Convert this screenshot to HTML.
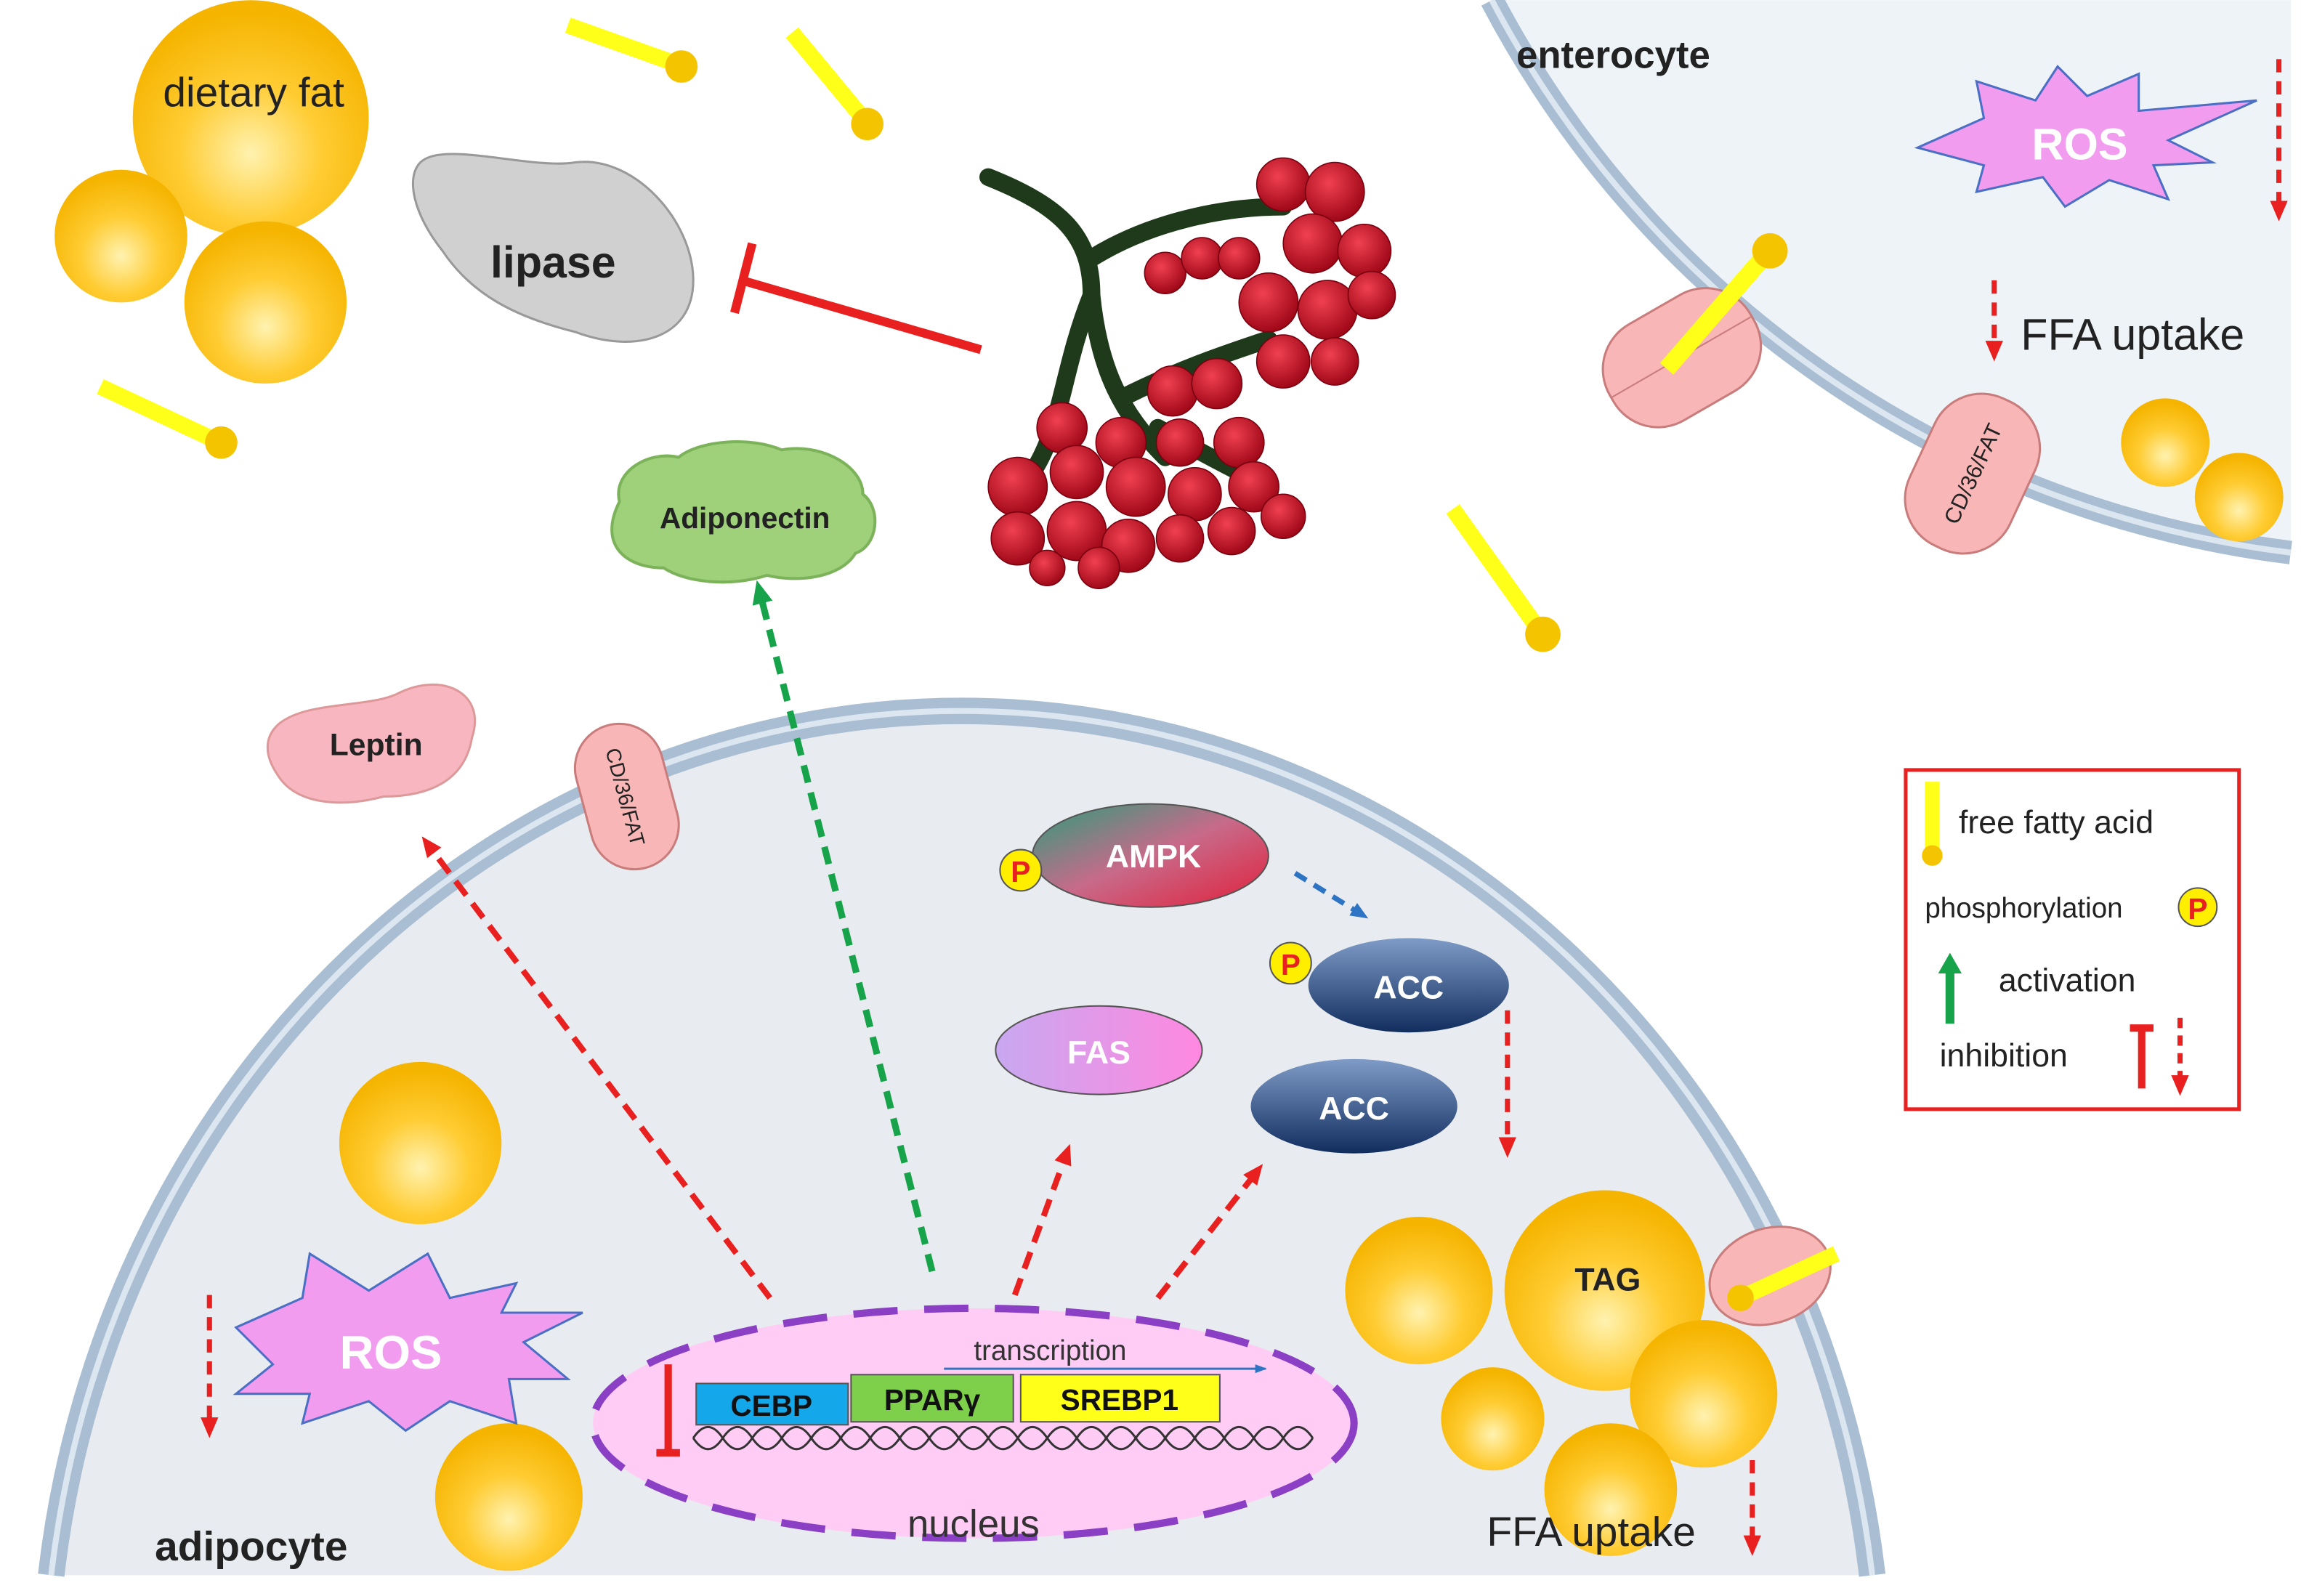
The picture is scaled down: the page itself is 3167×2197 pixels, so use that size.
<!DOCTYPE html>
<html><head><meta charset="utf-8"><style>
html,body{margin:0;padding:0;background:#fff;width:3167px;height:2197px;overflow:hidden}
svg{display:block;position:absolute;left:0;top:0}
text{font-family:"Liberation Sans",sans-serif}
</style></head><body>
<svg width="3167" height="2197" viewBox="0 0 1560 1082" xmlns="http://www.w3.org/2000/svg">
<defs>
<radialGradient id="gold" cx="50%" cy="65%" r="60%"><stop offset="0" stop-color="#fff2b0"/><stop offset="0.5" stop-color="#ffcc33"/><stop offset="1" stop-color="#f5b400"/></radialGradient>
<linearGradient id="ampk" x1="0" y1="0" x2="1" y2="1"><stop offset="0" stop-color="#2a9d7a"/><stop offset="0.5" stop-color="#c86a8a"/><stop offset="1" stop-color="#e0203a"/></linearGradient>
<linearGradient id="acc" x1="0" y1="0" x2="0" y2="1"><stop offset="0" stop-color="#7f9cc8"/><stop offset="1" stop-color="#102d5e"/></linearGradient>
<linearGradient id="fas" x1="0" y1="0" x2="1" y2="0"><stop offset="0" stop-color="#c8a8f0"/><stop offset="1" stop-color="#ff88e0"/></linearGradient>
<radialGradient id="berry" cx="40%" cy="35%" r="65%"><stop offset="0" stop-color="#f04050"/><stop offset="1" stop-color="#a00818"/></radialGradient>
<marker id="ar" markerUnits="userSpaceOnUse" markerWidth="14" markerHeight="14" refX="4" refY="7" orient="auto"><path d="M0,1 L14,7 L0,13z" fill="#e8201f"/></marker>
<marker id="ag" markerUnits="userSpaceOnUse" markerWidth="16" markerHeight="16" refX="4" refY="8" orient="auto"><path d="M0,1 L16,8 L0,15z" fill="#16a34a"/></marker>
<marker id="agl" markerUnits="userSpaceOnUse" markerWidth="14" markerHeight="16" refX="2" refY="8" orient="auto"><path d="M0,0 L14,8 L0,16z" fill="#16a34a"/></marker>
<marker id="ab" markerUnits="userSpaceOnUse" markerWidth="12" markerHeight="12" refX="3" refY="6" orient="auto"><path d="M0,1 L12,6 L0,11z" fill="#2d74c4"/></marker>
<marker id="abs" markerUnits="userSpaceOnUse" markerWidth="8" markerHeight="8" refX="7" refY="4" orient="auto"><path d="M0,1 L8,4 L0,7z" fill="#2d74c4"/></marker>
</defs>
<rect width="1560" height="1082" fill="#fff"/>

<path d="M1011.4,0 A710,710 0 0 0 1553,374.6 L1553,0 Z" fill="#eef3f8"/>
<path d="M1011.4,0 A710,710 0 0 0 1553,374.6" fill="none" stroke="#a9bed2" stroke-width="16"/>
<path d="M1011.4,0 A710,710 0 0 0 1553,374.6" fill="none" stroke="#dbe6f0" stroke-width="4"/>
<text x="1028" y="46" font-size="26" font-weight="bold" fill="#222">enterocyte</text>
<polygon points="1300,100 1345,80 1340,55 1380,68 1395,45 1415,65 1450,50 1450,75 1530,68 1470,95 1500,110 1460,112 1470,135 1430,122 1400,140 1385,120 1340,130 1345,112" fill="#f29cf0" stroke="#4a6fc4" stroke-width="1.5"/>
<text x="1410" y="108" font-size="30" font-weight="bold" fill="#fff" text-anchor="middle">ROS</text>
<line x1="1545" y1="40" x2="1545" y2="140" stroke="#e8201f" stroke-width="3.5" stroke-dasharray="9,6" marker-end="url(#ar)"/>
<line x1="1352" y1="190" x2="1352" y2="235" stroke="#e8201f" stroke-width="3.5" stroke-dasharray="9,6" marker-end="url(#ar)"/>
<text x="1370" y="237" font-size="30" fill="#222">FFA uptake</text>
<g transform="rotate(-30 1140 242)"><rect x="1085" y="205" width="110" height="75" rx="35" fill="#f8b6b6" stroke="#c97c7c" stroke-width="1.5"/><line x1="1085" y1="242" x2="1195" y2="242" stroke="#c97c7c"/></g>
<line x1="1130" y1="250" x2="1195" y2="175" stroke="#ffff1a" stroke-width="12"/>
<circle cx="1200" cy="170" r="12" fill="#f5c400"/>
<g transform="rotate(-65 1335 320)"><rect x="1280" y="285" width="110" height="75" rx="35" fill="#f8b6b6" stroke="#c97c7c" stroke-width="1.5"/><text x="1335" y="328" font-size="15" text-anchor="middle" fill="#222">CD/36/FAT</text></g>
<circle cx="1468" cy="300" r="30" fill="url(#gold)"/>
<circle cx="1518" cy="337" r="30" fill="url(#gold)"/>

<path d="M34.7,1068 A622,668 0 0 1 1269.3,1068 Z" fill="#e8ebef"/>
<path d="M34.7,1068 A622,668 0 0 1 1269.3,1068" fill="none" stroke="#a9bed2" stroke-width="18"/>
<path d="M34.7,1068 A622,668 0 0 1 1269.3,1068" fill="none" stroke="#dbe6f0" stroke-width="4"/>

<circle cx="170" cy="80" r="80" fill="url(#gold)"/>
<text x="172" y="72" font-size="28" fill="#222" text-anchor="middle">dietary fat</text>
<circle cx="82" cy="160" r="45" fill="url(#gold)"/>
<circle cx="180" cy="205" r="55" fill="url(#gold)"/>
<g stroke="#ffff1a" stroke-width="11">
<line x1="385" y1="17" x2="458" y2="43"/><line x1="537" y1="22" x2="585" y2="80"/><line x1="68" y1="262" x2="145" y2="298"/><line x1="985" y1="345" x2="1042" y2="425"/></g>
<g fill="#f5c400"><circle cx="462" cy="45" r="11"/><circle cx="588" cy="84" r="11"/><circle cx="150" cy="300" r="11"/><circle cx="1046" cy="430" r="12"/></g>
<path d="M285,110 C300,95 360,115 390,110 C430,105 470,150 470,190 C470,230 430,240 390,225 C350,215 320,200 300,170 C280,145 275,120 285,110z" fill="#d0d0d0" stroke="#999" stroke-width="1.5"/>
<text x="375" y="188" font-size="30" font-weight="bold" fill="#222" text-anchor="middle">lipase</text>
<line x1="665" y1="237" x2="503" y2="190" stroke="#e8201f" stroke-width="6"/>
<line x1="510" y1="165" x2="498" y2="212" stroke="#e8201f" stroke-width="6"/>

<g stroke="#1e3a1a" stroke-width="12" fill="none" stroke-linecap="round">
<path d="M670,120 C720,140 740,160 740,200 C745,250 760,280 790,310"/>
<path d="M740,200 C720,250 720,290 700,320"/>
<path d="M740,175 C780,150 830,140 870,140"/>
<path d="M760,270 C800,250 830,240 860,230"/>
<path d="M785,290 C820,310 840,320 860,330"/>
</g>
<g fill="url(#berry)" stroke="#7a0010" stroke-width="0.8">
<circle cx="870" cy="125" r="18"/><circle cx="905" cy="130" r="20"/><circle cx="890" cy="165" r="20"/><circle cx="925" cy="170" r="18"/><circle cx="860" cy="205" r="20"/><circle cx="900" cy="210" r="20"/><circle cx="930" cy="200" r="16"/><circle cx="870" cy="245" r="18"/><circle cx="905" cy="245" r="16"/><circle cx="790" cy="185" r="14"/><circle cx="815" cy="175" r="14"/><circle cx="840" cy="175" r="14"/>
<circle cx="795" cy="265" r="17"/><circle cx="825" cy="260" r="17"/><circle cx="720" cy="290" r="17"/><circle cx="760" cy="300" r="17"/><circle cx="800" cy="300" r="16"/><circle cx="840" cy="300" r="17"/><circle cx="690" cy="330" r="20"/><circle cx="730" cy="320" r="18"/><circle cx="770" cy="330" r="20"/><circle cx="810" cy="335" r="18"/><circle cx="850" cy="330" r="17"/><circle cx="690" cy="365" r="18"/><circle cx="730" cy="360" r="20"/><circle cx="765" cy="370" r="18"/><circle cx="800" cy="365" r="16"/><circle cx="835" cy="360" r="16"/><circle cx="870" cy="350" r="15"/><circle cx="745" cy="385" r="14"/><circle cx="710" cy="385" r="12"/>
</g>

<path d="M420,340 C415,320 440,305 460,310 C475,298 510,296 530,305 C555,300 585,315 585,335 C598,345 595,370 580,375 C570,392 540,395 520,390 C495,398 465,395 450,385 C425,385 405,370 420,340z" fill="#9fd07a" stroke="#7cb35a" stroke-width="2"/>
<text x="505" y="358" font-size="20" font-weight="bold" fill="#222" text-anchor="middle">Adiponectin</text>
<path d="M190,490 C210,475 250,480 270,470 C300,455 330,470 320,500 C315,530 290,540 260,540 C230,548 200,545 188,525 C178,510 180,498 190,490z" fill="#f8b6c0" stroke="#d99" stroke-width="1.5"/>
<text x="255" y="512" font-size="21" font-weight="bold" fill="#222" text-anchor="middle">Leptin</text>
<g transform="rotate(75 425 540)"><rect x="375" y="510" width="100" height="60" rx="30" fill="#f8b6b6" stroke="#c97c7c" stroke-width="1.5"/><text x="425" y="546" font-size="14" text-anchor="middle" fill="#222">CD/36/FAT</text></g>

<ellipse cx="780" cy="580" rx="80" ry="35" fill="url(#ampk)" stroke="#555" stroke-width="1"/>
<text x="782" y="588" font-size="22" font-weight="bold" fill="#fff" text-anchor="middle">AMPK</text>
<circle cx="692" cy="590" r="14" fill="#ffee00" stroke="#555"/><text x="692" y="598" font-size="20" font-weight="bold" fill="#e8201f" text-anchor="middle">P</text>
<line x1="878" y1="592" x2="920" y2="618" stroke="#2d74c4" stroke-width="3.5" stroke-dasharray="9,6" marker-end="url(#ab)"/>
<ellipse cx="955" cy="668" rx="68" ry="32" fill="url(#acc)"/>
<text x="955" y="677" font-size="22" font-weight="bold" fill="#fff" text-anchor="middle">ACC</text>
<circle cx="875" cy="653" r="14" fill="#ffee00" stroke="#555"/><text x="875" y="661" font-size="20" font-weight="bold" fill="#e8201f" text-anchor="middle">P</text>
<ellipse cx="918" cy="750" rx="70" ry="32" fill="url(#acc)"/>
<text x="918" y="759" font-size="22" font-weight="bold" fill="#fff" text-anchor="middle">ACC</text>
<ellipse cx="745" cy="712" rx="70" ry="30" fill="url(#fas)" stroke="#555" stroke-width="1"/>
<text x="745" y="721" font-size="22" font-weight="bold" fill="#fff" text-anchor="middle">FAS</text>
<line x1="1022" y1="685" x2="1022" y2="775" stroke="#e8201f" stroke-width="3.5" stroke-dasharray="9,6" marker-end="url(#ar)"/>

<circle cx="285" cy="775" r="55" fill="url(#gold)"/>
<circle cx="345" cy="1015" r="50" fill="url(#gold)"/>
<circle cx="962" cy="875" r="50" fill="url(#gold)"/>
<circle cx="1088" cy="875" r="68" fill="url(#gold)"/>
<text x="1090" y="875" font-size="22" font-weight="bold" fill="#222" text-anchor="middle">TAG</text>
<circle cx="1155" cy="945" r="50" fill="url(#gold)"/>
<circle cx="1012" cy="962" r="35" fill="url(#gold)"/>
<circle cx="1092" cy="1010" r="45" fill="url(#gold)"/>
<text x="1008" y="1048" font-size="28" fill="#222">FFA uptake</text>
<line x1="1188" y1="990" x2="1188" y2="1045" stroke="#e8201f" stroke-width="3.5" stroke-dasharray="9,6" marker-end="url(#ar)"/>
<g transform="rotate(-20 1200 865)"><ellipse cx="1200" cy="865" rx="42" ry="32" fill="#f8b6b6" stroke="#c97c7c" stroke-width="1.5"/></g>
<line x1="1180" y1="880" x2="1245" y2="850" stroke="#ffff1a" stroke-width="11"/>
<circle cx="1180" cy="880" r="9" fill="#f5c400"/>

<polygon points="160,900 205,880 210,850 250,875 290,850 305,880 350,870 340,890 395,890 355,910 385,935 345,935 350,965 305,950 275,970 250,950 205,965 210,945 160,945 185,925" fill="#f29cf0" stroke="#4a6fc4" stroke-width="1.5"/>
<text x="265" y="928" font-size="32" font-weight="bold" fill="#fff" text-anchor="middle">ROS</text>
<line x1="142" y1="878" x2="142" y2="965" stroke="#e8201f" stroke-width="3.5" stroke-dasharray="9,6" marker-end="url(#ar)"/>
<text x="105" y="1058" font-size="28" font-weight="bold" fill="#222">adipocyte</text>

<ellipse cx="660" cy="965" rx="258" ry="78" fill="#ffccf5"/>
<ellipse cx="660" cy="965" rx="258" ry="78" fill="none" stroke="#8a3fc4" stroke-width="5" stroke-dasharray="30,18"/>
<text x="660" y="1042" font-size="26" fill="#333" text-anchor="middle">nucleus</text>
<text x="712" y="922" font-size="19" fill="#333" text-anchor="middle">transcription</text>
<line x1="640" y1="928" x2="858" y2="928" stroke="#2d74c4" stroke-width="1.5" marker-end="url(#abs)"/>
<g fill="none" stroke="#333" stroke-width="1.5">
<path d="M470,975 Q480,960 490,975 T510,975 T530,975 T550,975 T570,975 T590,975 T610,975 T630,975 T650,975 T670,975 T690,975 T710,975 T730,975 T750,975 T770,975 T790,975 T810,975 T830,975 T850,975 T870,975 T890,975"/>
<path d="M470,975 Q480,990 490,975 T510,975 T530,975 T550,975 T570,975 T590,975 T610,975 T630,975 T650,975 T670,975 T690,975 T710,975 T730,975 T750,975 T770,975 T790,975 T810,975 T830,975 T850,975 T870,975 T890,975"/>
</g>
<rect x="472" y="938" width="103" height="28" fill="#14a8ea" stroke="#555"/>
<text x="523" y="960" font-size="20" font-weight="bold" fill="#111" text-anchor="middle">CEBP</text>
<rect x="577" y="932" width="110" height="32" fill="#7ed04a" stroke="#555"/>
<text x="632" y="956" font-size="20" font-weight="bold" fill="#111" text-anchor="middle">PPARγ</text>
<rect x="692" y="932" width="135" height="32" fill="#ffff1a" stroke="#555"/>
<text x="759" y="956" font-size="20" font-weight="bold" fill="#111" text-anchor="middle">SREBP1</text>
<line x1="453" y1="925" x2="453" y2="985" stroke="#e8201f" stroke-width="5"/>
<line x1="445" y1="985" x2="461" y2="985" stroke="#e8201f" stroke-width="5"/>

<line x1="522" y1="880" x2="292" y2="575" stroke="#e8201f" stroke-width="4" stroke-dasharray="12,7" marker-end="url(#ar)"/>
<line x1="632" y1="862" x2="516" y2="405" stroke="#16a34a" stroke-width="4.5" stroke-dasharray="12,7" marker-end="url(#ag)"/>
<line x1="688" y1="878" x2="722" y2="785" stroke="#e8201f" stroke-width="4" stroke-dasharray="12,7" marker-end="url(#ar)"/>
<line x1="785" y1="880" x2="850" y2="797" stroke="#e8201f" stroke-width="4" stroke-dasharray="12,7" marker-end="url(#ar)"/>

<rect x="1292" y="522" width="226" height="230" fill="#fff" stroke="#e8201f" stroke-width="2.5"/>
<rect x="1305" y="530" width="10" height="45" fill="#ffff1a"/>
<circle cx="1310" cy="580" r="7" fill="#f5c400"/>
<text x="1328" y="565" font-size="22" fill="#222">free fatty acid</text>
<text x="1305" y="622" font-size="19" fill="#222">phosphorylation</text>
<circle cx="1490" cy="615" r="13" fill="#ffee00" stroke="#555"/><text x="1490" y="623" font-size="20" font-weight="bold" fill="#e8201f" text-anchor="middle">P</text>
<line x1="1322" y1="694" x2="1322" y2="658" stroke="#16a34a" stroke-width="6" marker-end="url(#agl)"/>
<text x="1355" y="672" font-size="22" fill="#222">activation</text>
<text x="1315" y="723" font-size="22" fill="#222">inhibition</text>
<line x1="1452" y1="697" x2="1452" y2="738" stroke="#e8201f" stroke-width="5"/>
<line x1="1444" y1="697" x2="1460" y2="697" stroke="#e8201f" stroke-width="5"/>
<line x1="1478" y1="690" x2="1478" y2="733" stroke="#e8201f" stroke-width="3.5" stroke-dasharray="7,5" marker-end="url(#ar)"/>
</svg>
</body></html>
